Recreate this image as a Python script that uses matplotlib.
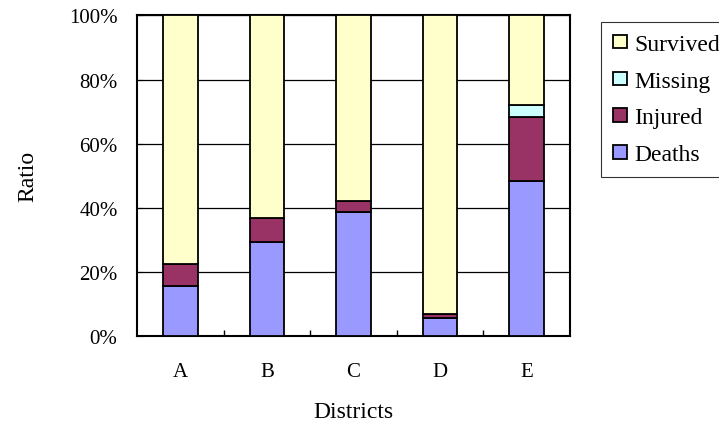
import matplotlib.pyplot as plt
from matplotlib.ticker import PercentFormatter

plt.rcParams['font.family'] = ['Liberation Serif', 'DejaVu Serif']

districts = ['A', 'B', 'C', 'D', 'E']
deaths = [15.7, 29.3, 38.8, 5.7, 48.5]
injured = [6.9, 7.4, 3.3, 1.3, 19.8]
missing = [0.0, 0.0, 0.0, 0.0, 3.7]
survived = [77.4, 63.3, 57.9, 93.0, 28.0]

series = [
    ("Deaths", deaths, "#9999FF"),
    ("Injured", injured, "#993366"),
    ("Missing", missing, "#CCFFFF"),
    ("Survived", survived, "#FFFFCC"),
]

fig = plt.figure(figsize=(7.19, 4.27), dpi=100)
ax = fig.add_axes([0.1905, 0.2108, 0.6023, 0.7506])

x = list(range(len(districts)))
bottom = [0.0] * len(districts)
handles = []
for name, vals, color in series:
    bars = ax.bar(x, vals, bottom=bottom, width=0.4, color=color,
                  edgecolor='black', linewidth=1.3, label=name, zorder=3)
    handles.append(bars)
    bottom = [b + v for b, v in zip(bottom, vals)]

ax.set_xlim(-0.5, len(districts) - 0.5)
ax.set_ylim(0, 100)
ax.set_yticks([0, 20, 40, 60, 80, 100])
ax.yaxis.set_major_formatter(PercentFormatter(decimals=0))
ax.grid(axis='y', color='black', linewidth=0.9, zorder=0)
ax.set_axisbelow(True)

ax.set_xticks(x)
ax.set_xticklabels(districts)
ax.set_xticks([i + 0.5 for i in x[:-1]], minor=True)
ax.tick_params(axis='x', which='major', length=0, pad=19, labelsize=15)
ax.tick_params(axis='x', which='minor', direction='in', length=4, width=1)
ax.tick_params(axis='y', direction='in', length=4, pad=14, labelsize=15)

for s in ax.spines.values():
    s.set_linewidth(1.5)

ax.set_xlabel("Districts", fontsize=17, labelpad=14)
ax.set_ylabel("Ratio", fontsize=17, labelpad=22)

# legend box runs off the right edge of the figure
leg = fig.legend(handles[::-1], [s[0] for s in series][::-1],
                 loc='upper left', bbox_to_anchor=(601 / 719, 1 - 23 / 427),
                 fontsize=17, frameon=True, fancybox=False,
                 handlelength=0.6, handleheight=0.5, handletextpad=0.3,
                 labelspacing=0.67, borderpad=0.5, borderaxespad=0)
leg.get_frame().set_edgecolor('black')
leg.get_frame().set_linewidth(0.8)

fig.savefig("out.png", dpi=100)
